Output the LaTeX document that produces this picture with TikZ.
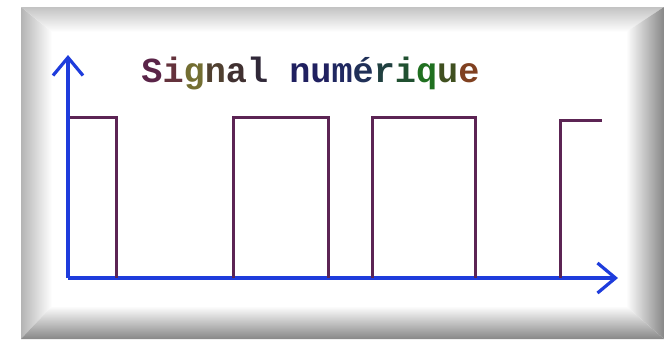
\documentclass[tikz,border=0pt]{standalone}
\usepackage{fontspec}
\setmonofont{Liberation Mono}
\usepackage{tikz}
\usetikzlibrary{arrows.meta}

\definecolor{axisblue}{RGB}{30,60,220}
\definecolor{sigpurple}{RGB}{92,36,84}
\definecolor{bevgray}{RGB}{180,180,180}
\definecolor{bevdark}{RGB}{135,135,135}

\begin{document}
\begin{tikzpicture}[
  x=0.5pt, y=-0.5pt,
  axis/.style={draw=axisblue, line width=1.6pt, -{Straight Barb[length=9pt, width=15pt, line width=1.6pt]}},
  signal/.style={draw=sigpurple, line width=1.5pt, line join=miter},
  title/.style={font=\ttfamily\bfseries\fontsize{17.6}{18}\selectfont, anchor=base west, inner sep=0pt}
]
\useasboundingbox (0,0) rectangle (664,339);
\fill[white] (0,0) rectangle (664,339);

% bevelled frame
\shade[left color=bevgray, right color=white] (21,7) -- (52,32) -- (52,306) -- (21,339) -- cycle;
\shade[top color=bevgray!80, bottom color=white] (21,7) -- (664,7) -- (626,32) -- (52,32) -- cycle;
\shade[left color=white, right color=bevdark] (626,32) -- (664,7) -- (664,339) -- (626,306) -- cycle;
\shade[top color=white, bottom color=bevdark] (52,306) -- (626,306) -- (664,339) -- (21,339) -- cycle;

% axes
\coordinate (o) at (68,278);
\coordinate (ytop) at (68,55);
\coordinate (xend) at (618,278);
\draw[axis] (o) -- (ytop);
\draw[axis] (o) -- (xend);

% square wave
\draw[signal] (70,117) -- (116,117) -- (116,278)
  (233,278) -- (233,117) -- (328,117) -- (328,278)
  (372,278) -- (372,117) -- (475,117) -- (475,278)
  (560,278) -- (560,120) -- (602,120);

% title
\node[title] (lbl) at (141,82) {%
  \textcolor[RGB]{90,36,72}{S}\textcolor[RGB]{100,50,60}{i}\textcolor[RGB]{115,110,50}{g}%
  \textcolor[RGB]{80,64,48}{n}\textcolor[RGB]{64,48,48}{a}\textcolor[RGB]{48,40,56}{l}
  \textcolor[RGB]{32,32,96}{n}\textcolor[RGB]{32,32,96}{u}\textcolor[RGB]{32,40,96}{m}%
  \textcolor[RGB]{32,48,88}{é}\textcolor[RGB]{32,64,64}{r}\textcolor[RGB]{32,80,48}{i}%
  \textcolor[RGB]{32,112,32}{q}\textcolor[RGB]{64,80,32}{u}\textcolor[RGB]{128,64,32}{e}};
\end{tikzpicture}
\end{document}
